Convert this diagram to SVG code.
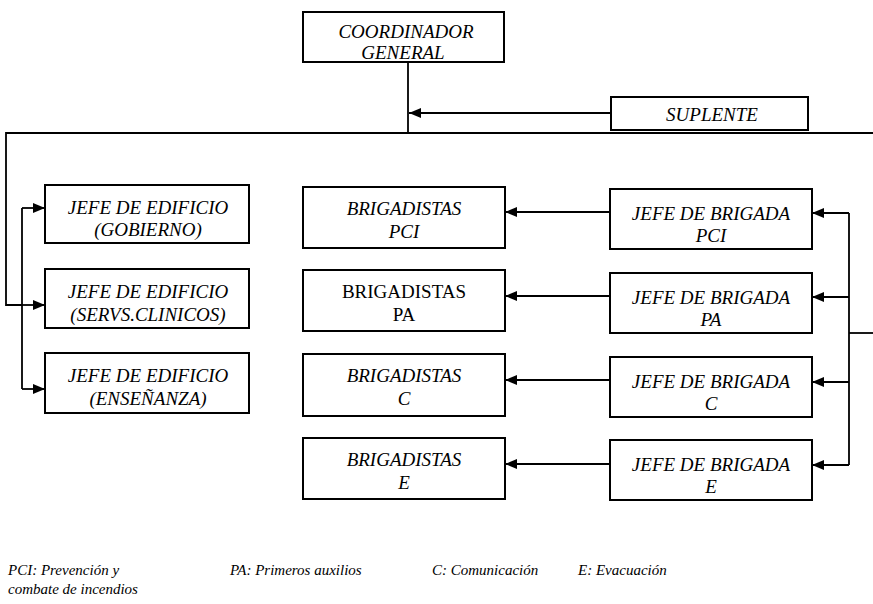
<svg xmlns="http://www.w3.org/2000/svg" width="873" height="604" viewBox="0 0 873 604" font-family="Liberation Serif, serif">
<style>
.box{fill:#fff;stroke:#000;stroke-width:2}
.t{font-style:italic;font-size:19px;fill:#000;text-anchor:middle}
.u{font-style:normal}
.ln{fill:none;stroke:#000;stroke-width:1.8}
.lg{font-style:italic;font-size:15px;fill:#000}
</style>
<defs>
<marker id="ah" viewBox="0 0 12 10" refX="12" refY="5" markerWidth="12" markerHeight="10" markerUnits="userSpaceOnUse" orient="auto">
<path d="M0,0 L12,5 L0,10 z" fill="#000"/>
</marker>
</defs>
<rect width="873" height="604" fill="#fff"/>
<g id="connectors">
<path class="ln" d="M408,62 V133"/>
<path class="ln" d="M611,113 H409" marker-end="url(#ah)"/>
<path class="ln" d="M873,133 H6 V305 H22"/>
<path class="ln" d="M22,208 V389"/>
<path class="ln" d="M22,208 H45" marker-end="url(#ah)"/>
<path class="ln" d="M22,305 H45" marker-end="url(#ah)"/>
<path class="ln" d="M22,389 H45" marker-end="url(#ah)"/>
<path class="ln" d="M873,333 H849"/>
<path class="ln" d="M849,213 V465"/>
<path class="ln" d="M849,213 H812" marker-end="url(#ah)"/>
<path class="ln" d="M849,297 H812" marker-end="url(#ah)"/>
<path class="ln" d="M849,382 H812" marker-end="url(#ah)"/>
<path class="ln" d="M849,465 H812" marker-end="url(#ah)"/>
<path class="ln" d="M610,212 H505" marker-end="url(#ah)"/>
<path class="ln" d="M610,296 H505" marker-end="url(#ah)"/>
<path class="ln" d="M610,380 H505" marker-end="url(#ah)"/>
<path class="ln" d="M610,464 H505" marker-end="url(#ah)"/>
</g>
<g id="coord"><rect class="box" x="303" y="12" width="201" height="50"/>
<text class="t" x="406" y="38">COORDINADOR</text><text class="t" x="403" y="59">GENERAL</text></g>
<g id="suplente"><rect class="box" x="611" y="97" width="197" height="33"/>
<text class="t" x="712" y="121">SUPLENTE</text></g>
<g id="jefe-gob"><rect class="box" x="45" y="185" width="204" height="58"/>
<text class="t" x="148" y="214">JEFE DE EDIFICIO</text><text class="t" x="148" y="236">(GOBIERNO)</text></g>
<g id="jefe-serv"><rect class="box" x="45" y="269" width="204" height="59"/>
<text class="t" x="148" y="298">JEFE DE EDIFICIO</text><text class="t" x="148" y="321">(SERVS.CLINICOS)</text></g>
<g id="jefe-ens"><rect class="box" x="45" y="353" width="204" height="60"/>
<text class="t" x="148" y="382">JEFE DE EDIFICIO</text><text class="t" x="148" y="405">(ENSEÑANZA)</text></g>
<g id="brig-pci"><rect class="box" x="303" y="187" width="202" height="61"/>
<text class="t" x="404" y="215">BRIGADISTAS</text><text class="t" x="404" y="238">PCI</text></g>
<g id="brig-pa"><rect class="box" x="303" y="270" width="202" height="61"/>
<text class="t u" x="404" y="298">BRIGADISTAS</text><text class="t u" x="404" y="321">PA</text></g>
<g id="brig-c"><rect class="box" x="303" y="354" width="202" height="62"/>
<text class="t" x="404" y="382">BRIGADISTAS</text><text class="t" x="404" y="405">C</text></g>
<g id="brig-e"><rect class="box" x="303" y="438" width="202" height="61"/>
<text class="t" x="404" y="466">BRIGADISTAS</text><text class="t" x="404" y="489">E</text></g>
<g id="jb-pci"><rect class="box" x="610" y="189" width="202" height="60"/>
<text class="t" x="711" y="220">JEFE DE BRIGADA</text><text class="t" x="711" y="242">PCI</text></g>
<g id="jb-pa"><rect class="box" x="610" y="273" width="202" height="60"/>
<text class="t" x="711" y="304">JEFE DE BRIGADA</text><text class="t" x="711" y="326">PA</text></g>
<g id="jb-c"><rect class="box" x="610" y="357" width="202" height="60"/>
<text class="t" x="711" y="388">JEFE DE BRIGADA</text><text class="t" x="711" y="410">C</text></g>
<g id="jb-e"><rect class="box" x="610" y="440" width="202" height="60"/>
<text class="t" x="711" y="471">JEFE DE BRIGADA</text><text class="t" x="711" y="493">E</text></g>
<g id="legend">
<text class="lg" x="8" y="575">PCI: Prevención y</text>
<text class="lg" x="8" y="594">combate de incendios</text>
<text class="lg" x="230" y="575">PA: Primeros auxilios</text>
<text class="lg" x="432" y="575">C: Comunicación</text>
<text class="lg" x="578" y="575">E: Evacuación</text>
</g>
</svg>
